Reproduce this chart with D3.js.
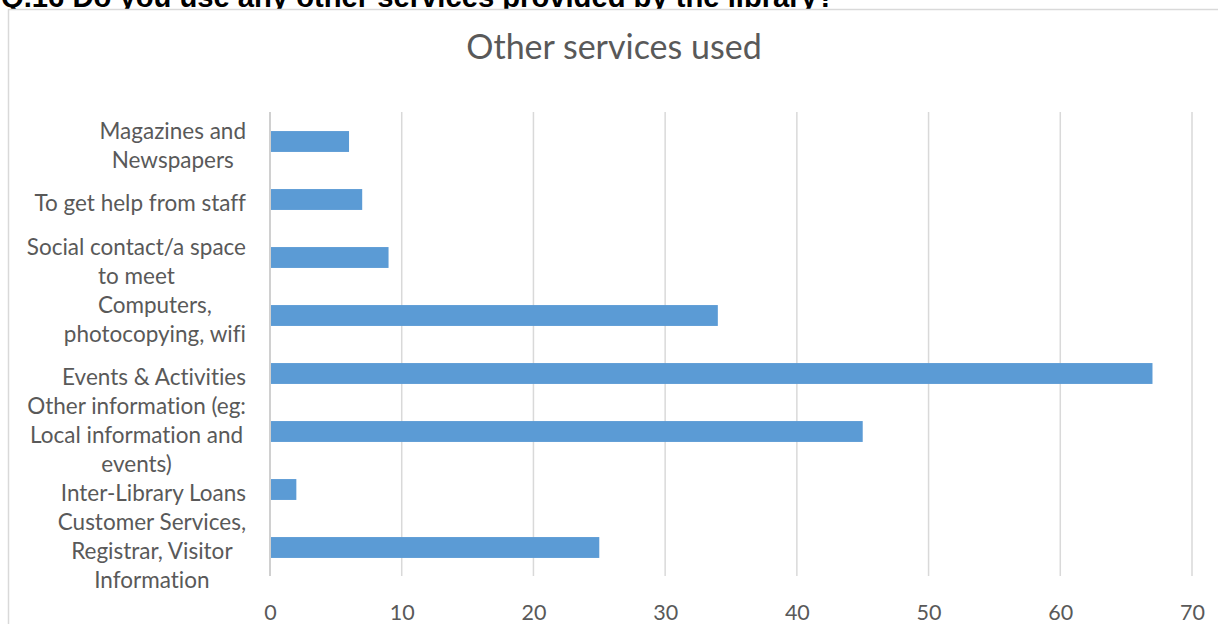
<!DOCTYPE html>
<html>
<head>
<meta charset="utf-8">
<script src="https://cdn.jsdelivr.net/npm/d3@7"></script>
<style>
  html, body { margin: 0; padding: 0; background: #fff; }
  svg { display: block; }
  text { font-variant-ligatures: none; font-feature-settings: "liga" 0; }
</style>
</head>
<body>
<svg id="chart" width="1218" height="624"></svg>
<script>
// ---- data ----
const categories = [
  "Magazines and Newspapers",
  "To get help from staff",
  "Social contact/a space to meet",
  "Computers, photocopying, wifi",
  "Events & Activities",
  "Other information (eg: Local information and events)",
  "Inter-Library Loans",
  "Customer Services, Registrar, Visitor Information"
];
const categoryLines = [
  ["Magazines and", "Newspapers"],
  ["To get help from staff"],
  ["Social contact/a space", "to meet"],
  ["Computers,", "photocopying, wifi"],
  ["Events & Activities"],
  ["Other information (eg:", "Local information and", "events)"],
  ["Inter-Library Loans"],
  ["Customer Services,", "Registrar, Visitor", "Information"]
];
const values = [6, 7, 9, 34, 67, 45, 2, 25];
const xTicks = [0, 10, 20, 30, 40, 50, 60, 70];
const chartTitle = "Other services used";
const questionText = "Q.16 Do you use any other services provided by the library?";

// ---- drawing ----
const svg = d3.select("#chart");
const textColor = "#595959";
const font = "Lato, 'Open Sans', sans-serif";

// question heading (partly covered by the chart, as in the source document)
const q = svg.append("text")
  .attr("x", 1).attr("y", 7)
  .attr("font-family", "'Liberation Sans', Arial, sans-serif")
  .attr("font-weight", "bold")
  .attr("font-size", 20)
  .attr("fill", "#000")
  .text(questionText);
const qw = q.node().getComputedTextLength();
q.attr("font-size", 20 * 834 / qw);

// chart frame
svg.append("rect")
  .attr("x", 8.5).attr("y", 9.5)
  .attr("width", 1240).attr("height", 640)
  .attr("fill", "#fff")
  .attr("stroke", "#d9d9d9")
  .attr("stroke-width", 1.5);

const x = d3.scaleLinear().domain([0, 70]).range([270, 1192]);
const y = d3.scaleBand().domain(categories).range([112.5, 576.5]).paddingInner(0.64).paddingOuter(0.32);

// title
svg.append("text")
  .attr("x", 614).attr("y", 59)
  .attr("text-anchor", "middle")
  .attr("font-family", font)
  .attr("font-size", 34)
  .attr("fill", textColor)
  .text(chartTitle);

// gridlines
const grid = svg.append("g");
grid.selectAll("line").data(xTicks.filter(d => d > 0)).join("line")
  .attr("x1", d => x(d)).attr("x2", d => x(d))
  .attr("y1", 112).attr("y2", 576)
  .attr("stroke", "#d9d9d9").attr("stroke-width", 1.5);

// bars
svg.append("g").selectAll("rect").data(values).join("rect")
  .attr("x", x(0))
  .attr("y", (d, i) => y(categories[i]))
  .attr("width", d => x(d) - x(0))
  .attr("height", y.bandwidth())
  .attr("fill", "#5b9bd5");

// category axis line
svg.append("line")
  .attr("x1", x(0)).attr("x2", x(0))
  .attr("y1", 112).attr("y2", 576)
  .attr("stroke", "#d0d0d0").attr("stroke-width", 2);

// x tick labels via axis
const xAxis = d3.axisBottom(x).tickValues(xTicks).tickSize(0).tickPadding(0);
const xg = svg.append("g").attr("transform", "translate(0,612)").call(xAxis);
xg.select(".domain").remove();
xg.selectAll("text")
  .attr("font-family", font)
  .attr("font-size", 21.5)
  .attr("fill", textColor)
  .attr("dy", null)
  .attr("y", 0)
  .attr("dominant-baseline", "central");

// category labels
const lineH = 29;
const rightEdge = 246;
const labG = svg.append("g");
categories.forEach((c, i) => {
  const lines = categoryLines[i];
  const cy = y(c) + y.bandwidth() / 2 + 3;
  const g = labG.append("g");
  const texts = lines.map((ln, k) => g.append("text")
    .attr("y", cy + (k - (lines.length - 1) / 2) * lineH)
    .attr("dominant-baseline", "central")
    .attr("text-anchor", "middle")
    .attr("font-family", font)
    .attr("font-size", 22.5)
    .attr("fill", textColor)
    .text(ln));
  const maxW = d3.max(texts, t => t.node().getComputedTextLength());
  texts.forEach(t => t.attr("x", rightEdge - maxW / 2));
});
</script>
</body>
</html>
